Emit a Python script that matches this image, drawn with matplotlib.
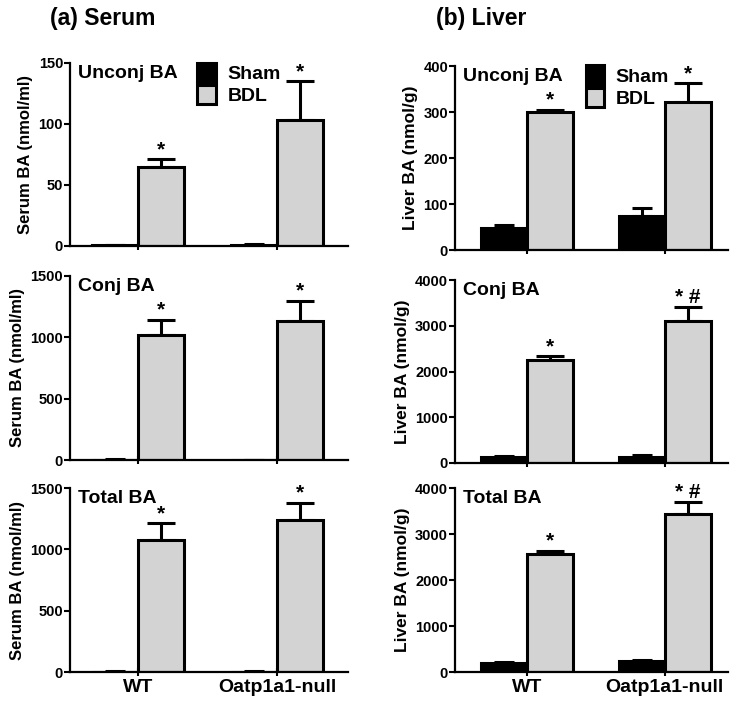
import numpy as np
import matplotlib.pyplot as plt

groups = ["WT", "Oatp1a1-null"]
panels = ["Unconj BA", "Conj BA", "Total BA"]

# serum (nmol/ml): mean, SEM for Sham and BDL
serum_sham = [[0.5, 1.0], [3, 2], [3, 3]]
serum_sham_err = [[0.3, 0.3], [2, 1], [2, 2]]
serum_bdl = [[65, 103], [1015, 1135], [1080, 1240]]
serum_bdl_err = [[6, 32], [130, 165], [135, 140]]
serum_ylim = [150, 1500, 1500]
serum_ticks = [[0, 50, 100, 150], [0, 500, 1000, 1500], [0, 500, 1000, 1500]]
serum_marks = [["*", "*"], ["*", "*"], ["*", "*"]]

# liver (nmol/g)
liver_sham = [[47, 73], [130, 140], [195, 230]]
liver_sham_err = [[8, 18], [30, 25], [30, 30]]
liver_bdl = [[300, 322], [2260, 3110], [2570, 3440]]
liver_bdl_err = [[5, 40], [80, 290], [70, 260]]
liver_ylim = [400, 4000, 4000]
liver_ticks = [[0, 100, 200, 300, 400], [0, 1000, 2000, 3000, 4000], [0, 1000, 2000, 3000, 4000]]
liver_marks = [["*", "*"], ["*", "* #"], ["*", "* #"]]

W, H = 738, 701
fig = plt.figure(figsize=(W / 100, H / 100), dpi=100)
plt.rcParams['font.family'] = ['Liberation Sans', 'DejaVu Sans']

# axes boxes in pixels: (left, right, top, bottom)
left_boxes = [(70, 348, 63, 246), (70, 348, 276, 460), (70, 348, 488, 672)]
right_boxes = [(455, 728, 66, 250), (455, 728, 280, 463), (455, 728, 488, 672)]


def draw(box, sham, sham_err, bdl, bdl_err, ymax, ticks, marks, ylabel, ylsize, title, xlim,
         legend=False, legend_x=0.46, xlabels=False):
    l, r, t, b = box
    ax = fig.add_axes([l / W, 1 - b / H, (r - l) / W, (b - t) / H])
    x = np.arange(len(groups))
    w = 1 / 3
    kw = dict(edgecolor="black", linewidth=2.2, align="edge", zorder=2)
    ax.bar(x - w, sham, w, color="black", label="Sham", **kw)
    ax.bar(x, bdl, w, color="#d3d3d3", label="BDL", **kw)
    ax.errorbar(x - w / 2, sham, yerr=[np.zeros(2), sham_err], fmt="none",
                ecolor="black", elinewidth=2.2, capsize=7, capthick=2.2, zorder=1)
    ax.errorbar(x + w / 2, bdl, yerr=[np.zeros(2), bdl_err], fmt="none",
                ecolor="black", elinewidth=2.2, capsize=10, capthick=2.2, zorder=1)
    for i in range(len(groups)):
        top = bdl[i] + bdl_err[i]
        ax.text(x[i] + w / 2, top, marks[i], ha="center", va="bottom",
                fontsize=15, fontweight="bold")
    ax.set_ylim(0, ymax)
    ax.set_xlim(*xlim)
    ax.set_yticks(ticks)
    ax.set_xticks(x)
    if xlabels:
        ax.set_xticklabels(groups, fontsize=14, fontweight="bold")
    else:
        ax.set_xticklabels([])
    for lab in ax.get_yticklabels():
        lab.set_fontweight("bold")
        lab.set_fontsize(10.5)
    ax.tick_params(axis="y", length=4, width=1.5, pad=1)
    ax.tick_params(axis="x", length=6, width=1.5, direction="inout", pad=2)
    for s in ["top", "right"]:
        ax.spines[s].set_visible(False)
    for s in ["left", "bottom"]:
        ax.spines[s].set_linewidth(1.6)
    ax.set_ylabel(ylabel, fontsize=ylsize, fontweight="bold", labelpad=4)
    ax.text(0.03, 0.99, title, transform=ax.transAxes, ha="left", va="top",
            fontsize=14, fontweight="bold")
    if legend:
        ax.legend(loc="upper left", bbox_to_anchor=(legend_x, 1.045), frameon=False,
                  prop=dict(size=14, weight="bold"), handlelength=0.95, handleheight=1.15,
                  handletextpad=0.6, labelspacing=0.1, borderaxespad=0)
    return ax


for k in range(3):
    draw(left_boxes[k], serum_sham[k], serum_sham_err[k], serum_bdl[k], serum_bdl_err[k],
         serum_ylim[k], serum_ticks[k], serum_marks[k], "Serum BA (nmol/ml)", 12, panels[k],
         (-0.49, 1.51), legend=(k == 0), legend_x=0.43, xlabels=(k == 2))
    draw(right_boxes[k], liver_sham[k], liver_sham_err[k], liver_bdl[k], liver_bdl_err[k],
         liver_ylim[k], liver_ticks[k], liver_marks[k], "Liver BA (nmol/g)", 12.5, panels[k],
         (-0.52, 1.46), legend=(k == 0), legend_x=0.45, xlabels=(k == 2))

fig.text(50 / W, 1 - 19 / H, "(a) Serum", fontsize=16.5, fontweight="bold", va="center")
fig.text(436 / W, 1 - 19 / H, "(b) Liver", fontsize=16.5, fontweight="bold", va="center")

fig.savefig("out.png", dpi=100)
